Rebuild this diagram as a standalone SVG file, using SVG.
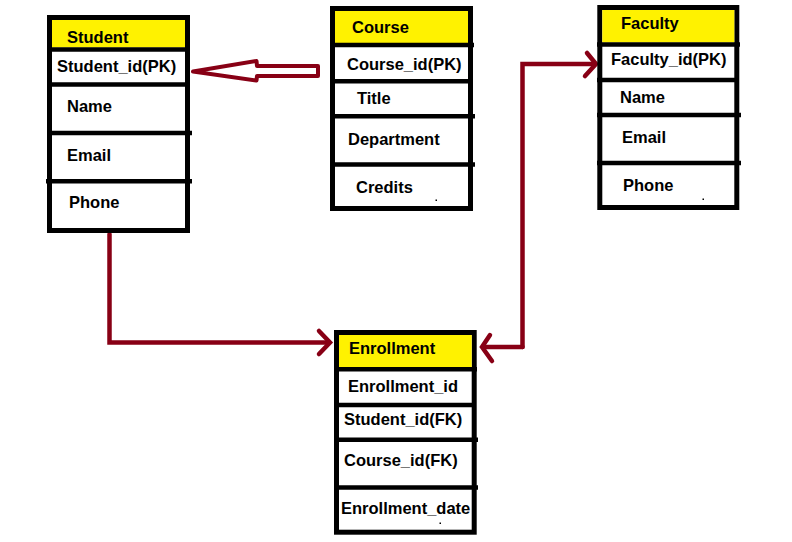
<svg xmlns="http://www.w3.org/2000/svg" width="792" height="542" viewBox="0 0 792 542">
<style>
.box{fill:#fff;stroke:#000;stroke-width:5}
.hdr{fill:#fff200}
.div{stroke:#000;stroke-width:4.5}
.t{font-family:"Liberation Sans",Arial,sans-serif;font-weight:bold;font-size:16.5px;fill:#000}
.con{fill:none;stroke:#880015;stroke-width:4.5;stroke-linecap:round;stroke-linejoin:miter}
.hol{fill:#fff;stroke:#880015;stroke-width:4;stroke-linejoin:round}
</style>
<rect width="792" height="542" fill="#fff"/>
<g id="connectors">
<path class="hol" d="M193,71.5 L256.5,61 L257,66 L318,66 L318,76 L257,76 L256.5,80.5 Z"/>
<path class="con" d="M109.5,234 L109.5,342.5 L329,342.5"/>
<path class="con" d="M319,331 L330,342.5 L319,354"/>
<path class="con" d="M522.5,347 L522.5,64 L595,64"/>
<path class="con" d="M587,53 L596,64 L585,76"/>
<path class="con" d="M522.5,347 L484,347"/>
<path class="con" d="M490,335 L482,347 L492,361"/>
</g>
<g id="student">
<rect class="box" x="49.5" y="17.5" width="138" height="213"/>
<rect class="hdr" x="52" y="20" width="133" height="27.5"/>
<line class="div" x1="47" y1="49.5" x2="190" y2="49.5"/>
<line class="div" x1="47" y1="84.5" x2="190" y2="84.5"/>
<line class="div" x1="47" y1="133" x2="192" y2="133"/>
<line class="div" x1="46" y1="181.3" x2="192" y2="181.3"/>
<text class="t" x="67" y="43">Student</text>
<text class="t" x="57" y="72">Student_id(PK)</text>
<text class="t" x="67" y="112">Name</text>
<text class="t" x="67" y="161">Email</text>
<text class="t" x="69" y="208">Phone</text>
</g>
<g id="course">
<rect class="box" x="332.5" y="8.5" width="138" height="200"/>
<rect class="hdr" x="335" y="11" width="133" height="32"/>
<line class="div" x1="330" y1="45" x2="474" y2="45"/>
<line class="div" x1="330" y1="81.3" x2="473" y2="81.3"/>
<line class="div" x1="330" y1="116.2" x2="475" y2="116.2"/>
<line class="div" x1="330" y1="164.5" x2="475" y2="164.5"/>
<text class="t" x="352" y="33">Course</text>
<text class="t" x="347" y="70">Course_id(PK)</text>
<text class="t" x="357" y="104">Title</text>
<text class="t" x="348" y="145">Department</text>
<text class="t" x="356" y="193">Credits</text>
<rect x="435.5" y="199.5" width="1.5" height="1.5" fill="#000"/>
</g>
<g id="faculty">
<rect class="box" x="599.8" y="7.5" width="137" height="200"/>
<rect class="hdr" x="602.3" y="10" width="132" height="32.5"/>
<line class="div" x1="597" y1="44.5" x2="740" y2="44.5"/>
<line class="div" x1="597" y1="80" x2="739" y2="80"/>
<line class="div" x1="597" y1="115" x2="741" y2="115"/>
<line class="div" x1="597" y1="163" x2="741" y2="163"/>
<text class="t" x="621" y="29">Faculty</text>
<text class="t" x="611" y="65">Faculty_id(PK)</text>
<text class="t" x="620" y="103">Name</text>
<text class="t" x="622" y="143">Email</text>
<text class="t" x="623" y="191">Phone</text>
<rect x="702.5" y="198.5" width="1.5" height="1.5" fill="#000"/>
</g>
<g id="enrollment">
<rect class="box" x="336.5" y="332.5" width="137.7" height="199.7"/>
<rect class="hdr" x="339" y="335" width="132.7" height="32"/>
<line class="div" x1="334" y1="369.2" x2="477" y2="369.2"/>
<line class="div" x1="334" y1="405" x2="476" y2="405"/>
<line class="div" x1="334" y1="439.8" x2="478" y2="439.8"/>
<line class="div" x1="334" y1="487.5" x2="478" y2="487.5"/>
<text class="t" x="349" y="354">Enrollment</text>
<text class="t" x="348" y="392">Enrollment_id</text>
<text class="t" x="344" y="425">Student_id(FK)</text>
<text class="t" x="344" y="466">Course_id(FK)</text>
<text class="t" x="341" y="514">Enrollment_date</text>
<rect x="439.5" y="522.5" width="1.5" height="1.5" fill="#000"/>
</g>
</svg>
